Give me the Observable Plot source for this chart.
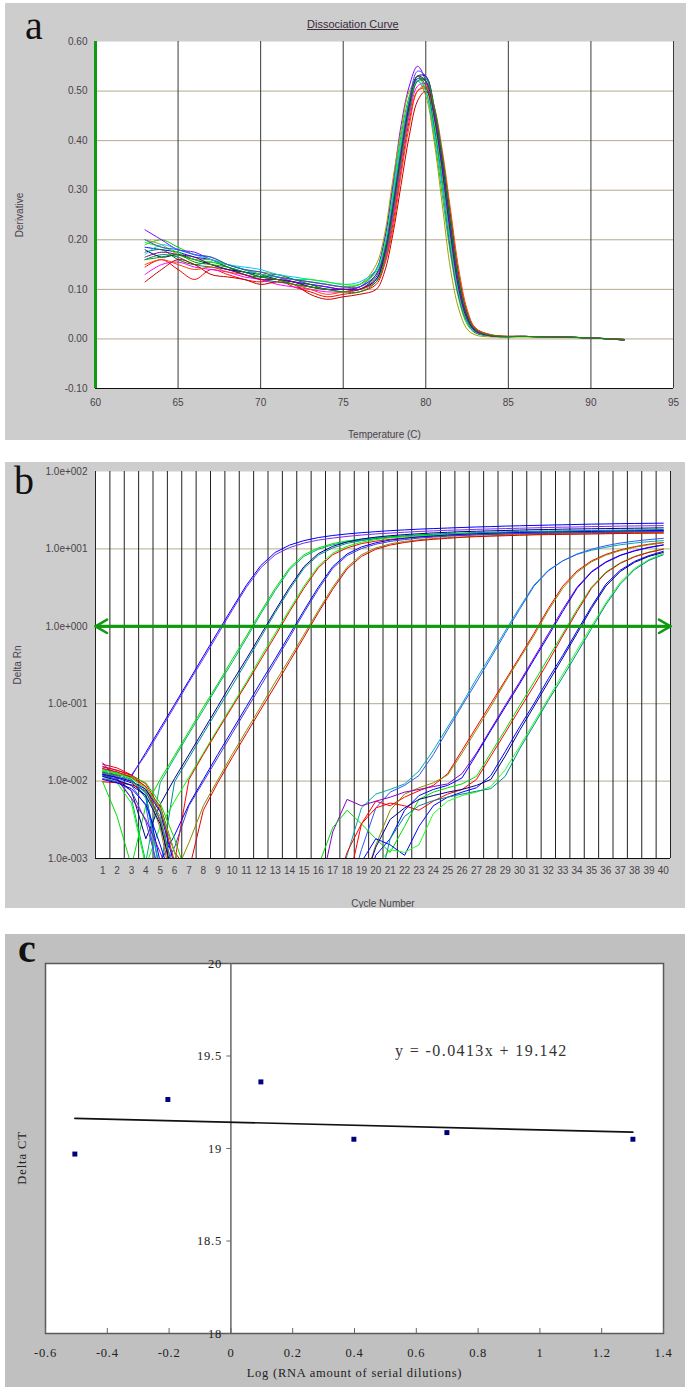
<!DOCTYPE html>
<html><head><meta charset="utf-8">
<script src="https://cdn.jsdelivr.net/npm/d3@7"></script>
<script src="https://cdn.jsdelivr.net/npm/@observablehq/plot@0.6"></script>
<style>
body{margin:0;width:689px;height:1394px;position:relative;background:#fff;overflow:hidden}
.panel{position:absolute}
.lbl{position:absolute;white-space:nowrap;line-height:1}
</style></head><body>
<div class="panel" id="pa" style="left:5px;top:3px;width:681px"></div>
<div class="panel" id="pb" style="left:5px;top:462px;width:680px"></div>
<div class="panel" id="pc" style="left:5px;top:934px;width:680px"></div>
<div class="lbl" style="left:25px;top:6px;font:40px/40px 'Liberation Serif',serif;color:#111">a</div>
<div class="lbl" style="left:307px;top:18px;font:11px 'Liberation Sans',Arial,sans-serif;color:#3a2a3a;text-decoration:underline">Dissociation Curve</div>
<div class="lbl" style="left:14px;top:461px;font:40px/40px 'Liberation Serif',serif;color:#111">b</div>
<div class="lbl" style="left:18px;top:929px;font:bold 40px/40px 'Liberation Serif',serif;color:#111">c</div>
<div class="lbl" style="left:395px;top:1042px;font:16px 'Liberation Serif',serif;letter-spacing:1.4px;color:#333">y = -0.0413x + 19.142</div>
<div class="lbl" style="left:22px;top:1158px;font:12.5px 'Liberation Serif',serif;letter-spacing:0.9px;color:#222;transform:translate(-50%,-50%) rotate(-90deg)">Delta CT</div>
<script>
// ---------- Panel a: dissociation curves ----------
const tempsA = [63,64,65,66,67,68,69,70,71,72,73,74,75,76,77,77.5,78,78.5,79,79.5,80,80.5,81,81.5,82,82.5,83,84,86,88,90,92];
const curveA1 = [.145,.16,.14,.12,.14,.13,.12,.115,.12,.105,.095,.085,.09,.095,.11,.15,.23,.34,.44,.5,.505,.45,.35,.22,.11,.045,.018,.007,.005,.004,.002,-.001];
const curveA2 = [.19,.2,.185,.17,.165,.15,.14,.13,.125,.12,.115,.11,.105,.11,.14,.2,.3,.41,.49,.53,.5,.41,.29,.17,.08,.03,.012,.006,.005,.004,.002,-.002];
const curveA3 = [.185,.18,.175,.165,.16,.145,.135,.13,.12,.115,.11,.105,.1,.105,.13,.18,.27,.38,.47,.525,.52,.45,.34,.21,.1,.04,.015,.006,.005,.004,.002,-.001];
const curveA4 = [.22,.2,.18,.175,.16,.15,.14,.13,.125,.115,.11,.105,.1,.105,.14,.2,.31,.43,.51,.55,.52,.43,.31,.18,.085,.035,.013,.006,.005,.004,.002,-.002];
const curveA5 = [.2,.19,.17,.16,.16,.15,.14,.135,.13,.12,.115,.11,.105,.11,.15,.21,.32,.42,.5,.52,.49,.4,.27,.14,.06,.02,.008,.004,.004,.003,.002,-.001];
const curveA6 = [.16,.17,.165,.15,.145,.14,.13,.12,.115,.11,.105,.1,.095,.1,.12,.165,.25,.36,.46,.52,.52,.46,.36,.23,.12,.05,.02,.007,.005,.004,.002,-.002];
const curveA7 = [.13,.15,.155,.145,.14,.135,.125,.12,.11,.105,.1,.095,.095,.1,.115,.155,.24,.35,.45,.51,.515,.46,.36,.24,.12,.05,.02,.007,.005,.004,.002,-.002];
const curveA8 = [.175,.18,.16,.15,.155,.145,.13,.125,.13,.12,.11,.1,.1,.1,.13,.18,.28,.39,.48,.53,.51,.43,.32,.19,.09,.035,.014,.006,.005,.004,.002,-.002];
const curveA9 = [.18,.165,.17,.16,.15,.14,.135,.125,.12,.115,.105,.1,.1,.1,.12,.17,.26,.37,.47,.53,.53,.47,.36,.23,.11,.045,.017,.006,.005,.004,.002,-.001];
const curveA10 = [.115,.14,.16,.15,.13,.125,.12,.11,.115,.11,.09,.08,.085,.09,.1,.135,.21,.31,.41,.48,.5,.46,.37,.25,.13,.055,.022,.008,.005,.004,.002,-.002];
const curveA11 = [.17,.19,.18,.17,.16,.15,.145,.14,.13,.125,.12,.115,.11,.115,.14,.19,.29,.4,.48,.52,.5,.42,.31,.19,.09,.036,.014,.006,.005,.004,.002,-.002];
const curveA12 = [.195,.185,.175,.16,.155,.15,.14,.13,.125,.12,.12,.115,.11,.11,.135,.185,.28,.39,.48,.53,.52,.44,.33,.2,.095,.038,.015,.006,.005,.004,.002,-.002];
const curveA13 = [.2,.185,.18,.17,.165,.15,.14,.135,.125,.12,.115,.11,.105,.105,.13,.175,.27,.38,.48,.54,.53,.46,.35,.22,.105,.042,.016,.006,.005,.004,.002,-.002];
const curveA14 = [.15,.16,.15,.14,.145,.135,.13,.12,.12,.11,.1,.09,.095,.1,.115,.15,.22,.33,.43,.5,.51,.47,.38,.26,.14,.06,.022,.008,.005,.004,.002,-.001];
const curveA15 = [.165,.175,.17,.165,.15,.14,.13,.12,.12,.115,.105,.1,.1,.1,.125,.17,.26,.37,.47,.53,.52,.45,.34,.21,.1,.04,.016,.006,.005,.004,.002,-.002];
const curveA16 = [.16,.165,.17,.155,.15,.145,.135,.125,.12,.11,.105,.1,.095,.095,.115,.16,.25,.36,.46,.52,.525,.47,.37,.24,.12,.05,.019,.007,.005,.004,.002,-.002];
const curvesA = [curveA1,curveA2,curveA3,curveA4,curveA5,curveA6,curveA7,curveA8,curveA9,curveA10,curveA11,curveA12,curveA13,curveA14,curveA15,curveA16];
const colorsA = ["#ff0000","#00d000","#0000ff","#8000ff","#a0a000","#008080","#ff00ff","#008000","#000080","#c00000","#00c8ff","#00ff00","#4040ff","#ff4000","#800080","#00a000"];
const xDomainA = [60, 95];
const yDomainA = [-0.1, 0.6];
const xTicksA = [60,65,70,75,80,85,90,95];
const yTicksA = [-0.1,0,0.1,0.2,0.3,0.4,0.5,0.6];
const vGridA = [65,70,75,80,85,90,95];
const hGridA = [0,0.1,0.2,0.3,0.4,0.5];

// ---------- Panel b: amplification plot ----------
const cyclesB = [1,2,3,4,5,6,7,8,9,10,11,12,13,14,15,16,17,18,19,20,21,22,23,24,25,26,27,28,29,30,31,32,33,34,35,36,37,38,39,40];
const runE1 = [.013,.012,.0115,.0235,.048,.098,.2,.41,.84,1.7,3.4,6.1,9,11.2,12.8,14,14.9,15.6,16.2,16.7,17.2,17.6,18,18.3,18.6,18.9,19.2,19.4,19.7,19.9,20.1,20.3,20.5,20.7,20.9,21,21.2,21.3,21.4,21.5];
const runE2 = [.0155,.0138,.012,.022,.045,.092,.19,.38,.78,1.6,3.2,5.7,8.4,10.4,11.9,13,13.8,14.5,15.1,15.6,16,16.4,16.8,17.1,17.4,17.6,17.9,18.1,18.3,18.5,18.7,18.9,19.1,19.2,19.4,19.5,19.7,19.8,19.9,20];
const runE3 = [.0098,.0035,.0008,.0048,.0105,.0215,.044,.09,.18,.37,.75,1.55,3.1,5.7,8.4,10.3,11.7,12.7,13.4,14,14.4,14.8,15.1,15.4,15.6,15.8,16,16.2,16.3,16.4,16.5,16.6,16.7,16.8,16.9,17,17.1,17.2,17.3,17.4];
const runE4 = [.0135,.011,.006,.0009,.0095,.02,.041,.083,.17,.34,.7,1.45,2.9,5.4,8,9.9,11.3,12.3,13,13.6,14.1,14.5,14.8,15.1,15.3,15.5,15.7,15.9,16,16.1,16.2,16.3,16.4,16.5,16.6,16.7,16.8,16.9,17,17];
const runE5 = [.012,.0105,.0075,.0018,.005,.0108,.022,.045,.092,.19,.38,.78,1.6,3.2,5.9,8.7,10.8,12.3,13.4,14.2,14.8,15.3,15.7,16.1,16.4,16.7,16.9,17.1,17.3,17.5,17.7,17.8,18,18.1,18.2,18.3,18.4,18.5,18.6,18.7];
const runE6 = [.0145,.013,.0105,.006,.0007,.0098,.02,.041,.084,.17,.35,.72,1.5,3,5.6,8.3,10.3,11.8,12.8,13.6,14.2,14.7,15.1,15.5,15.8,16,16.2,16.4,16.6,16.8,16.9,17,17.1,17.2,17.3,17.4,17.5,17.6,17.7,17.8];
const runE7 = [.0115,.0095,.0052,.0008,.0026,.0055,.0112,.023,.047,.095,.19,.4,.81,1.65,3.3,6,8.8,10.8,12.2,13.2,13.9,14.4,14.8,15.1,15.4,15.6,15.8,16,16.1,16.2,16.3,16.4,16.5,16.6,16.7,16.8,16.9,16.9,17,17];
const runE8 = [.0165,.0148,.012,.0092,.0045,.0009,.0105,.022,.045,.09,.18,.37,.75,1.55,3.1,5.7,8.4,10.3,11.7,12.6,13.3,13.8,14.2,14.5,14.8,15,15.2,15.4,15.5,15.6,15.7,15.8,15.9,16,16.1,16.2,16.3,16.4,16.4,16.5];
const runE9 = [.0125,.011,.0095,.0065,.0009,.002,.005,.0105,.022,.045,.092,.19,.38,.78,1.6,3.2,5.9,8.6,10.6,12,13,13.7,14.3,14.7,15.1,15.4,15.7,15.9,16.1,16.3,16.4,16.5,16.6,16.7,16.8,16.9,17,17.1,17.2,17.3];
const runE10 = [.0108,.0098,.0075,.003,.0006,.0014,.0048,.0098,.02,.041,.084,.17,.35,.72,1.5,3,5.6,8.2,10.1,11.5,12.5,13.2,13.8,14.2,14.6,14.9,15.2,15.4,15.6,15.8,15.9,16,16.1,16.2,16.3,16.4,16.5,16.6,16.7,16.8];
const runE11 = [.0125,.0115,.0098,.0072,.0035,.0006,.0016,.0048,.0103,.022,.045,.092,.19,.38,.78,1.6,3.2,5.8,8.4,10.3,11.6,12.5,13.1,13.6,14,14.3,14.6,14.8,15,15.2,15.3,15.4,15.5,15.6,15.7,15.8,15.9,16,16,16.1];
const runE12 = [.0098,.0095,.009,.0075,.0048,.0012,.0007,.0042,.0095,.02,.041,.084,.17,.35,.72,1.5,3,5.5,8,9.9,11.2,12.1,12.8,13.3,13.7,14.1,14.4,14.6,14.8,15,15.2,15.3,15.4,15.5,15.6,15.7,15.8,15.9,16,16];
const runL1 = [.014,.0125,.0105,.0068,.0006,0,0,0,0,0,0,0,0,0,0,0,.0003,.0011,.0045,.0068,.0078,.0092,.0135,.025,.05,.1,.21,.42,.87,1.75,3.4,5.3,7,8.5,9.6,10.5,11.3,11.9,12.4,12.8];
const runL2 = [.0118,.0105,.0088,.0048,.0004,0,0,0,0,0,0,0,0,0,0,0,0,.0003,.0013,.0045,.0072,.0088,.0118,.022,.046,.094,.19,.39,.81,1.65,3.3,5.2,7,8.6,9.9,11,11.9,12.6,13.2,13.7];
const runL3 = [.0152,.0138,.0118,.0085,.003,.0004,0,0,0,0,0,0,0,0,0,0,0,.0004,.0028,.0055,.0048,.0062,.0075,.0088,.0125,.025,.05,.1,.2,.4,.81,1.7,3.3,5.2,7,8.5,9.7,10.7,11.5,12.1];
const runL4 = [.0128,.0122,.011,.0078,.0025,.0003,0,0,0,0,0,0,0,0,0,0,0,0,.0004,.0015,.0042,.0068,.0082,.0095,.012,.023,.046,.092,.19,.38,.76,1.6,3.1,5,6.8,8.3,9.5,10.5,11.3,12];
const runL5 = [.0172,.0105,.006,.0032,.0012,.0004,0,0,0,0,0,0,0,0,0,.0003,.0022,.0058,.0048,.0055,.0062,.0072,.0078,.0085,.0092,.0125,.023,.047,.095,.19,.39,.8,1.65,3.2,5.1,6.8,8.3,9.5,10.5,11.3];
const runL6 = [.0105,.0095,.008,.005,.0015,.0004,0,0,0,0,0,0,0,0,0,0,0,0,.0003,.0011,.0018,.0042,.0065,.0078,.0088,.011,.022,.045,.09,.18,.37,.75,1.55,3.1,5,6.7,8.2,9.4,10.4,11.2];
const runL7 = [.0135,.0128,.0115,.0095,.0052,.0018,.0005,0,0,0,0,0,0,0,.0003,.0008,.0025,.0042,.0028,.0018,.0012,.0026,.0058,.0072,.0082,.0092,.0115,.023,.046,.094,.19,.39,.8,1.65,3.2,5,6.6,8,9.1,10];
const runL8 = [.0145,.0132,.0112,.0085,.0042,.0012,.0004,0,0,0,0,0,0,0,0,0,.0003,.0012,.0028,.0045,.0052,.0048,.0042,.0055,.0068,.0078,.0105,.021,.042,.085,.17,.35,.75,1.55,3.1,4.9,6.5,7.9,9,9.9];
const runL9 = [.0122,.0112,.01,.0078,.004,.0008,0,0,0,0,0,0,0,0,0,0,0,.0003,.0009,.0018,.0015,.0011,.0026,.0048,.0062,.0072,.0082,.0118,.024,.05,.1,.21,.42,.87,1.8,3.5,5.3,6.9,8.2,9.3];
const runL10 = [.0115,.0102,.0088,.0065,.0028,.0005,0,0,0,0,0,0,0,0,0,0,0,0,.0004,.0014,.0032,.0045,.0058,.0065,.0072,.0078,.0088,.0105,.021,.045,.092,.19,.39,.81,1.7,3.3,5.1,6.7,8,9];
const runL11 = [.0138,.0125,.0108,.0082,.0045,.0012,.0003,0,0,0,0,0,0,0,0,0,0,0,0,.0008,.0013,.0012,.0015,.0038,.0055,.0065,.0072,.0085,.014,.028,.057,.117,.24,.49,1,2,3.7,5.6,7.3,8.7];
const runL12 = [.0128,.0118,.0102,.0072,.0032,.0006,0,0,0,0,0,0,0,0,0,0,0,0,0,.0003,.0018,.0035,.0048,.0056,.0062,.0068,.0074,.008,.0115,.026,.053,.11,.22,.45,.93,1.9,3.5,5.4,7.1,8.4];
const runsB = [runE1,runE2,runE3,runE4,runE5,runE6,runE7,runE8,runE9,runE10,runE11,runE12,runL1,runL2,runL3,runL4,runL5,runL6,runL7,runL8,runL9,runL10,runL11,runL12];
const colorsB = ["#0000ff","#7b2cf0","#00e000","#00b070","#000090","#008b8b","#00ff00","#ff0000","#0000ff","#4b3bc8","#8b8b00","#e00000",
                 "#00aaaa","#3355ff","#ff0000","#8b8b00","#8800cc","#0000ff","#00dd00","#ff0000","#0000ff","#000090","#22ff22","#008b8b"];
const xDomainB = [0.5, 40.5];
const yDomainB = [1e-3, 1e2];
const yTicksB = [1e-3,1e-2,1e-1,1e0,1e1,1e2];
const yTickLabelsB = ["1.0e-003","1.0e-002","1.0e-001","1.0e+000","1.0e+001","1.0e+002"];
const hGridB = [1e-2,1e-1,1e1];
const thresholdB = 1.0;

// ---------- Panel c: delta CT vs log RNA ----------
const xC = [-0.505,-0.204,0.097,0.398,0.699,1.301];
const yC = [18.97,19.265,19.36,19.05,19.086,19.05];
const slopeC = -0.0413, interceptC = 19.142;
const xDomainC = [-0.6, 1.4];
const yDomainC = [18, 20];
const xTicksC = [-0.6,-0.4,-0.2,0,0.2,0.4,0.6,0.8,1,1.2,1.4];
const yTicksC = [18,18.5,19,19.5,20];
const yAxisAtC = 0;

const sansStyle = {fontFamily: "'Liberation Sans', Arial, sans-serif", fontSize: "10px", color: "#4a424a"};

const plotA = Plot.plot({
  width: 681, height: 437,
  marginLeft: 90, marginRight: 13, marginTop: 38, marginBottom: 52,
  style: {...sansStyle, background: "#cdcdcd"},
  x: {domain: xDomainA},
  y: {domain: yDomainA},
  marks: [
    Plot.frame({fill: "white", stroke: "none"}),
    Plot.ruleY(hGridA, {stroke: "#b3ab8c", strokeWidth: 1}),
    Plot.ruleX(vGridA, {stroke: "#3a3a3a", strokeWidth: 1}),
    ...curvesA.map((vals, i) => Plot.line(tempsA, {x: d => d, y: (d, j) => vals[j], stroke: colorsA[i], strokeWidth: 1, curve: "catmull-rom"})),
    Plot.ruleY([yDomainA[0]], {stroke: "#111", strokeWidth: 1.2}),
    Plot.ruleX([xDomainA[0]], {stroke: "#109a10", strokeWidth: 3}),
    Plot.axisX({ticks: xTicksA, tickSize: 0, tickPadding: 10, tickFormat: d => String(d), label: "Temperature (C)", labelAnchor: "center", labelOffset: 49, labelArrow: "none"}),
    Plot.axisY({ticks: yTicksA, tickSize: 0, tickPadding: 8, tickFormat: d => d.toFixed(2), label: "Derivative", labelAnchor: "center", labelOffset: 80, labelArrow: "none"})
  ]
});
document.getElementById("pa").append(plotA);

const plotB = Plot.plot({
  width: 680, height: 446,
  marginLeft: 90, marginRight: 15, marginTop: 9, marginBottom: 50,
  style: {...sansStyle, background: "#cdcdcd"},
  x: {domain: xDomainB},
  y: {type: "log", domain: yDomainB},
  marks: [
    Plot.frame({fill: "white", stroke: "none"}),
    Plot.ruleY(hGridB, {stroke: "#b3ab8c", strokeWidth: 1}),
    Plot.ruleX([xDomainB[0], ...cyclesB.map(c => c + 0.5)], {stroke: "#222", strokeWidth: 1}),
    ...runsB.map((vals, i) => Plot.line(cyclesB, {x: d => d, y: (d, j) => vals[j], stroke: colorsB[i], strokeWidth: 1, clip: true})),
    Plot.ruleY([yDomainB[0]], {stroke: "#111", strokeWidth: 1.2}),
    Plot.ruleY([thresholdB], {stroke: "#109a10", strokeWidth: 3}),
    Plot.arrow([thresholdB], {x1: () => xDomainB[1], x2: () => xDomainB[0], y1: d => d, y2: d => d, stroke: "#109a10", strokeWidth: 2.5, headLength: 8}),
    Plot.arrow([thresholdB], {x1: () => xDomainB[0], x2: () => xDomainB[1], y1: d => d, y2: d => d, stroke: "#109a10", strokeWidth: 2.5, headLength: 8}),
    Plot.axisX({ticks: cyclesB, tickSize: 0, tickPadding: 8, tickFormat: d => String(d), label: "Cycle Number", labelAnchor: "center", labelOffset: 48, labelArrow: "none"}),
    Plot.axisY({ticks: yTicksB, tickSize: 0, tickPadding: 8, tickFormat: d => yTickLabelsB[yTicksB.indexOf(d)], label: "Delta Rn", labelAnchor: "center", labelOffset: 82, labelArrow: "none"})
  ]
});
document.getElementById("pb").append(plotB);

const plotC = Plot.plot({
  width: 680, height: 453,
  marginLeft: 40, marginRight: 22, marginTop: 29, marginBottom: 54,
  style: {fontFamily: "'Liberation Serif', serif", fontSize: "12.5px", letterSpacing: "0.75px", color: "#222", background: "#c0c0c0"},
  x: {domain: xDomainC},
  y: {domain: yDomainC, axis: null},
  marks: [
    Plot.frame({fill: "white", stroke: "none"}),
    Plot.frame({stroke: "#5a5a5a", strokeWidth: 1.5}),
    Plot.ruleX([yAxisAtC], {stroke: "#666", strokeWidth: 1.5}),
    Plot.ruleY(yTicksC, {x1: yAxisAtC, x2: yAxisAtC, insetLeft: -4, stroke: "#666"}),
    Plot.ruleX(xTicksC, {y1: yDomainC[0], y2: yDomainC[0], insetBottom: 5, stroke: "#666"}),
    Plot.text(yTicksC, {x: yAxisAtC, y: d => d, text: d => String(d), dx: -9, textAnchor: "end"}),
    Plot.line(d3.extent(xC), {x: d => d, y: d => slopeC * d + interceptC, stroke: "#111", strokeWidth: 1.6}),
    Plot.dot(xC, {x: d => d, y: (d, i) => yC[i], symbol: "square", r: 2.8, fill: "#00007a", stroke: "none"}),
    Plot.axisX({ticks: xTicksC, tickSize: 0, tickPadding: 15, tickFormat: d => String(d), label: "Log (RNA amount of serial dilutions)", labelAnchor: "center", labelOffset: 43, labelArrow: "none"})
  ]
});
document.getElementById("pc").append(plotC);
</script>
</body></html>
